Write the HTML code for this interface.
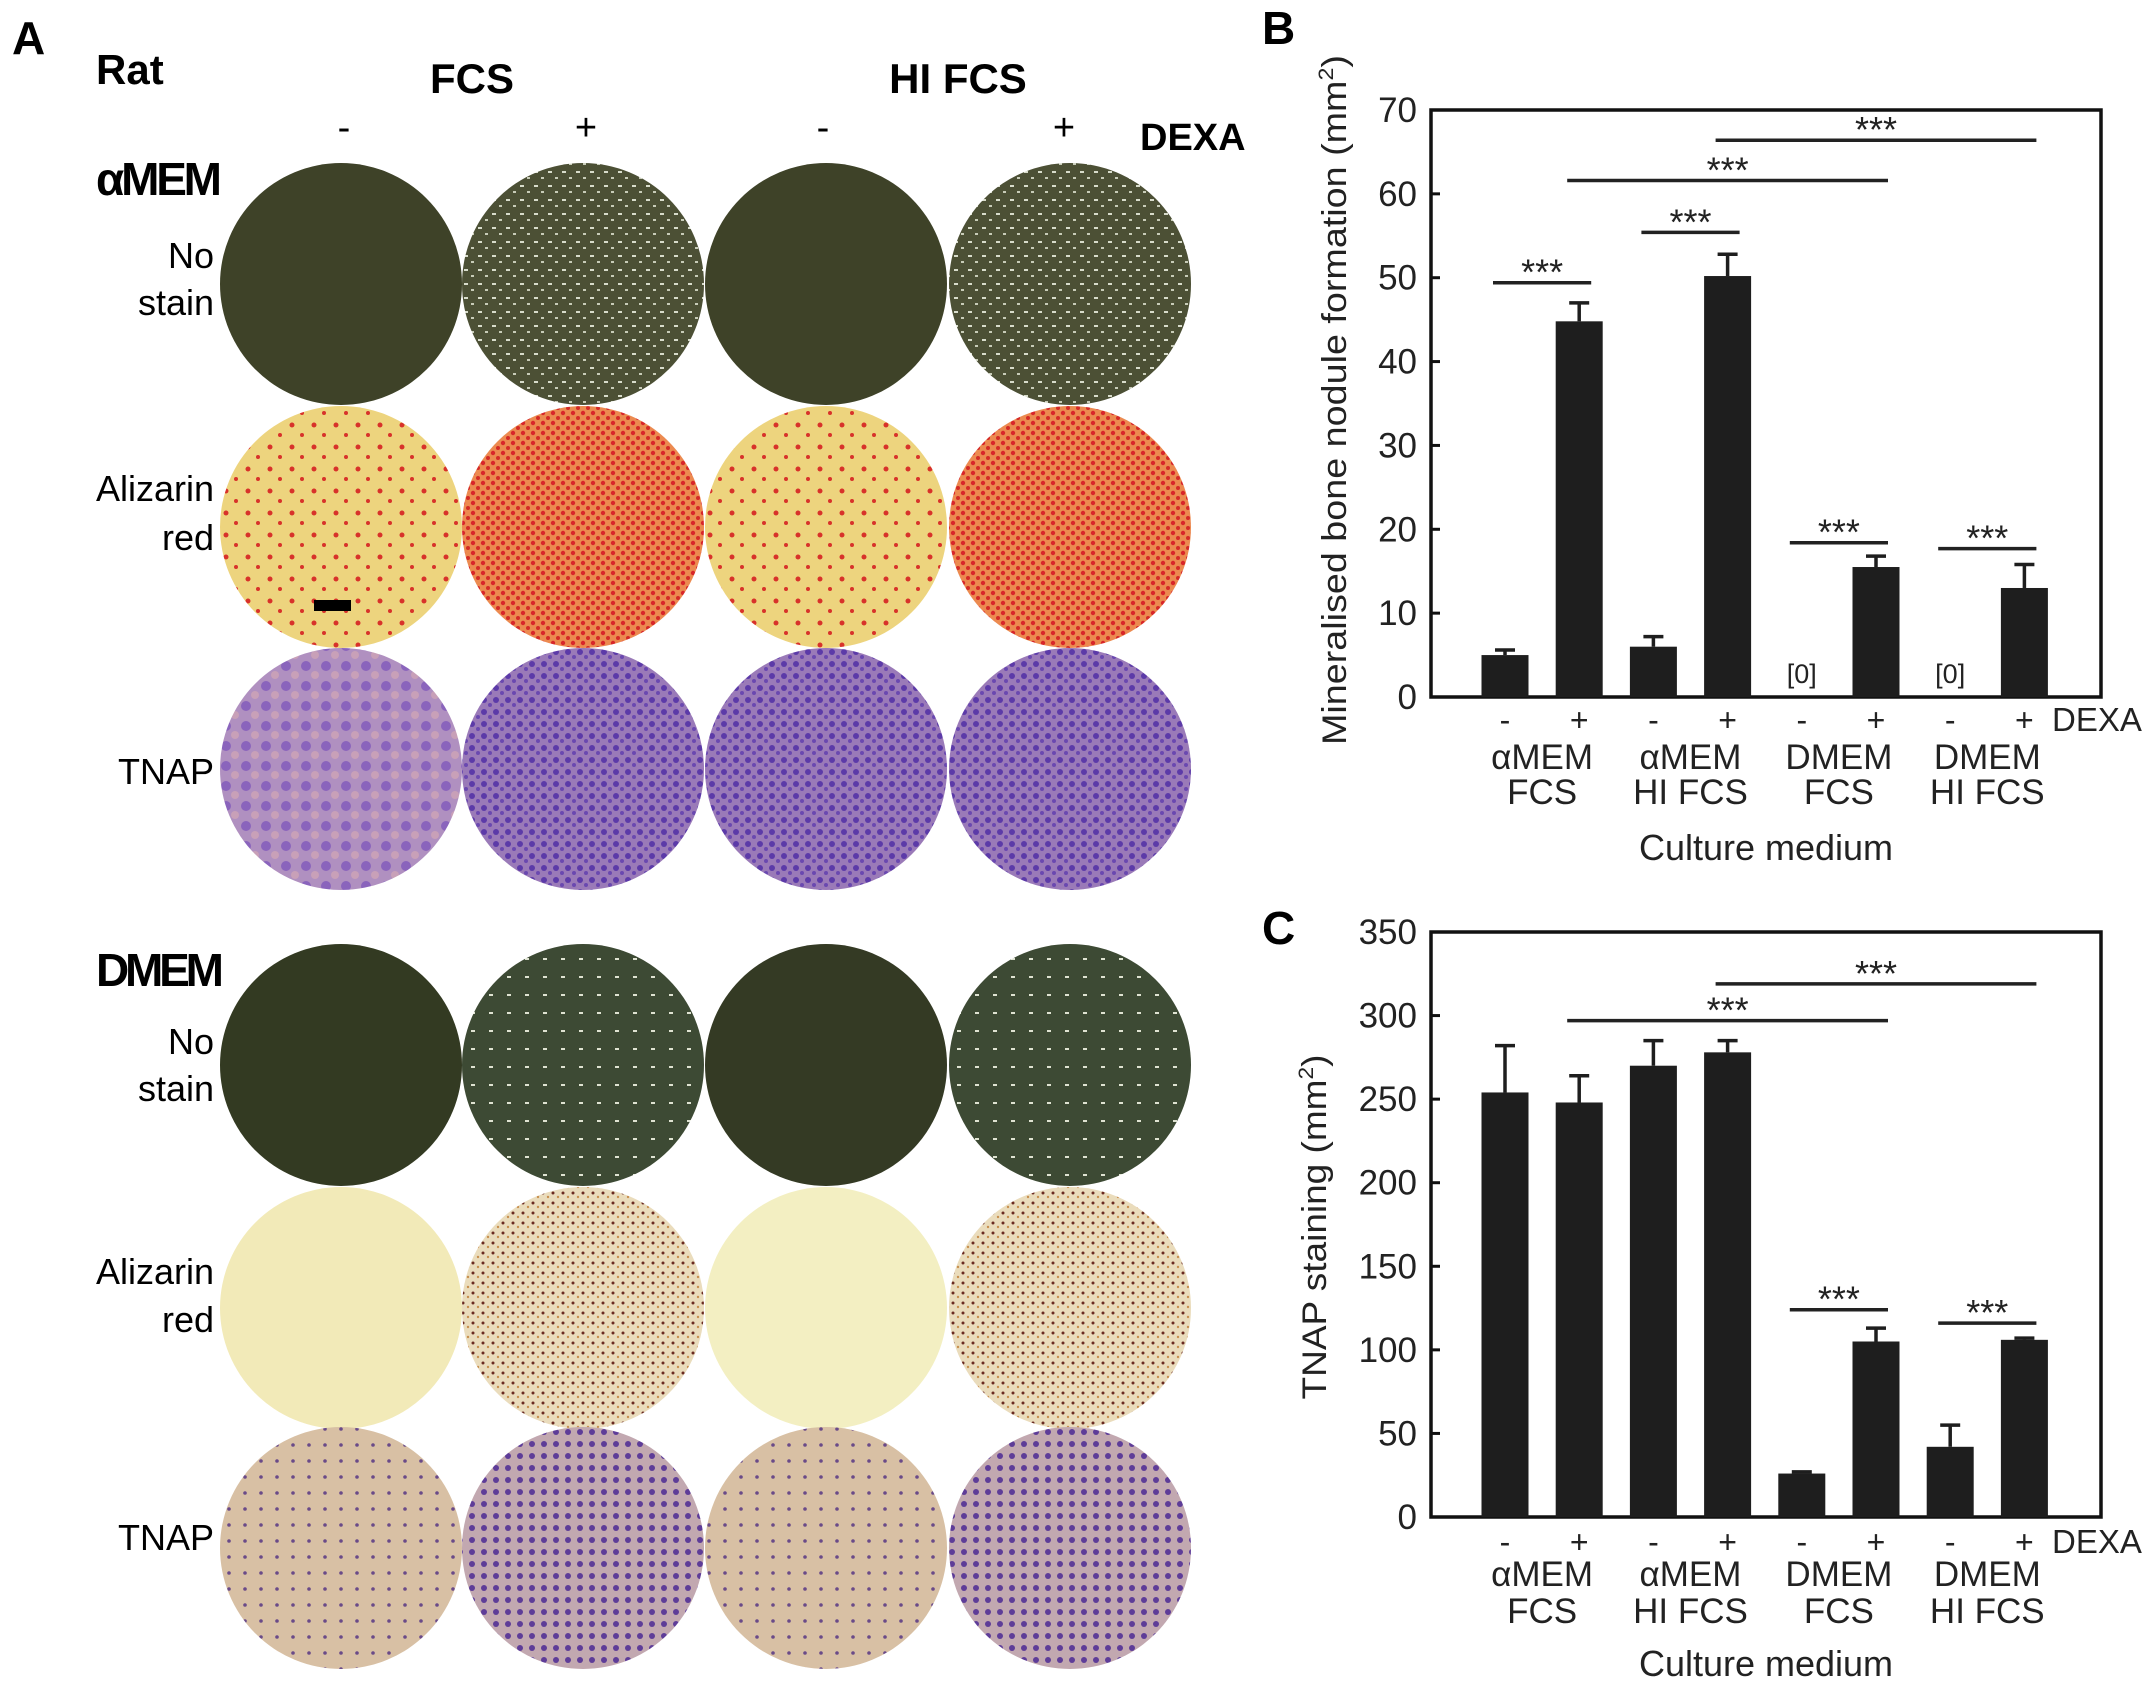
<!DOCTYPE html>
<html><head><meta charset="utf-8"><style>
html,body{margin:0;padding:0;background:#fff;}
svg{display:block;font-family:"Liberation Sans",Arial,sans-serif;}
</style></head><body>
<svg id="fig" width="2150" height="1690" viewBox="0 0 2150 1690" xmlns="http://www.w3.org/2000/svg">
<defs>
  <pattern id="pWhite" width="14" height="14" patternUnits="userSpaceOnUse"><rect width="14" height="14" fill="#4c5035"/><rect x="2" y="3" width="4" height="2" fill="#d8dccb"/><rect x="9" y="9" width="3" height="2" fill="#c8ccb8"/></pattern>
  <pattern id="pWhite2" width="18" height="18" patternUnits="userSpaceOnUse"><rect width="18" height="18" fill="#3d4a34"/><rect x="3" y="4" width="4" height="2" fill="#dfe3d2"/></pattern>
  <pattern id="pRedSparse" width="22" height="22" patternUnits="userSpaceOnUse"><rect width="22" height="22" fill="#edd47e"/><circle cx="6" cy="7" r="2.5" fill="#d8322a"/><circle cx="16" cy="17" r="2" fill="#d8322a"/></pattern>
  <pattern id="pRedDense" width="10" height="10" patternUnits="userSpaceOnUse"><rect width="10" height="10" fill="#ec8a50"/><circle cx="3" cy="3" r="2.2" fill="#d8262a"/><circle cx="8" cy="8" r="2" fill="#d42a26"/></pattern>
  <pattern id="pPurple1" width="20" height="20" patternUnits="userSpaceOnUse"><rect width="20" height="20" fill="#b090c0"/><circle cx="6" cy="6" r="5" fill="#8a64bc"/><circle cx="15" cy="15" r="4" fill="#c8a0b8"/></pattern>
  <pattern id="pPurple2" width="12" height="12" patternUnits="userSpaceOnUse"><rect width="12" height="12" fill="#9a7ab8"/><circle cx="4" cy="4" r="3" fill="#5c3aa8"/><circle cx="10" cy="9" r="2" fill="#6a48b0"/></pattern>
  <pattern id="pSpeck" width="10" height="10" patternUnits="userSpaceOnUse"><rect width="10" height="10" fill="#eadcbc"/><circle cx="3" cy="3" r="1.5" fill="#6a2a20"/><circle cx="8" cy="7" r="1.2" fill="#c89050"/></pattern>
  <pattern id="pBeige" width="16" height="16" patternUnits="userSpaceOnUse"><rect width="16" height="16" fill="#d8c0a4"/><circle cx="5" cy="5" r="1.8" fill="#6a4a88"/></pattern>
  <pattern id="pBeigeP" width="12" height="12" patternUnits="userSpaceOnUse"><rect width="12" height="12" fill="#c2a8b0"/><circle cx="4" cy="4" r="3" fill="#5e3c98"/></pattern>
</defs>

<!-- Panel A -->
<g>
  <text x="12" y="54" font-size="46" font-weight="bold">A</text>
  <text x="96" y="84" font-size="42" font-weight="bold">Rat</text>
  <text x="472" y="93" font-size="42" font-weight="bold" text-anchor="middle">FCS</text>
  <text x="958" y="93" font-size="42" font-weight="bold" text-anchor="middle">HI FCS</text>
  <text x="344" y="140" font-size="38" text-anchor="middle">-</text>
  <text x="586" y="140" font-size="38" text-anchor="middle">+</text>
  <text x="823" y="140" font-size="38" text-anchor="middle">-</text>
  <text x="1064" y="140" font-size="38" text-anchor="middle">+</text>
  <text x="1140" y="150" font-size="38" font-weight="bold">DEXA</text>
  <text x="96" y="195" font-size="46" font-weight="bold" textLength="126">αMEM</text>
  <text x="96" y="986" font-size="46" font-weight="bold" textLength="128">DMEM</text>
  <g font-size="36" text-anchor="end">
    <text x="214" y="268">No</text><text x="214" y="315">stain</text>
    <text x="214" y="501">Alizarin</text><text x="214" y="550">red</text>
    <text x="214" y="784">TNAP</text>
    <text x="214" y="1054">No</text><text x="214" y="1101">stain</text>
    <text x="214" y="1284">Alizarin</text><text x="214" y="1332">red</text>
    <text x="214" y="1550">TNAP</text>
  </g>
  <g id="wells"></g>
  <rect x="314" y="600" width="37" height="11" fill="#000"/>
</g>

<g id="chartB">
  <text x="1262" y="44" font-size="46" font-weight="bold">B</text>
</g>
<g id="chartC">
  <text x="1262" y="944" font-size="46" font-weight="bold">C</text>
</g>
</svg>
<script>
const NS='http://www.w3.org/2000/svg';
// Panel A wells
const wellCols=[341,583,826,1070];
const wellRows=[284,527,769,1065,1308,1548];
const wellFills=[
 ['#3e4228','url(#pWhite)','#3e4228','url(#pWhite)'],
 ['url(#pRedSparse)','url(#pRedDense)','url(#pRedSparse)','url(#pRedDense)'],
 ['url(#pPurple1)','url(#pPurple2)','url(#pPurple2)','url(#pPurple2)'],
 ['#333a22','url(#pWhite2)','#343a24','url(#pWhite2)'],
 ['#f2eab8','url(#pSpeck)','#f3efc2','url(#pSpeck)'],
 ['url(#pBeige)','url(#pBeigeP)','url(#pBeige)','url(#pBeigeP)']
];
const wg=document.getElementById('wells');
wellRows.forEach((cy,r)=>wellCols.forEach((cx,c)=>{
  const e=document.createElementNS(NS,'circle');
  e.setAttribute('cx',cx);e.setAttribute('cy',cy);e.setAttribute('r',121);
  e.setAttribute('fill',wellFills[r][c]);
  
  
  wg.appendChild(e);
}));

// Chart data
const dexa=['-','+','-','+','-','+','-','+'];
const groupsTop=['αMEM','αMEM','DMEM','DMEM'];
const groupsBottom=['FCS','HI FCS','FCS','HI FCS'];
const bValues=[5,44.8,6,50.2,0,15.5,0,13];
const bErrors=[5.6,47,7.2,52.8,null,16.8,null,15.8];
const bTicks=[0,10,20,30,40,50,60,70];
const bSig=[[0,1,49.4],[2,3,55.4],[1,5,61.6],[3,7,66.4],[4,5,18.4],[6,7,17.7]];
const cValues=[254,248,270,278,26,105,42,106];
const cErrors=[282,264,285,285,27,113,55,107];
const cTicks=[0,50,100,150,200,250,300,350];
const cSig=[[1,5,297],[3,7,319],[4,5,124],[6,7,116]];

function el(p,tag,attrs,name,text){
  const e=document.createElementNS(NS,tag);
  for(const k in attrs)e.setAttribute(k,attrs[k]);
  
  
  if(text!==undefined)e.textContent=text;
  p.appendChild(e);return e;
}
function chart(g,o){
  const L=1431,R=2101,top=o.top,bot=o.bot,max=o.ticks[o.ticks.length-1];
  const y=v=>bot-(v/max)*(bot-top);
  const x=i=>1505+i*74.2;
  el(g,'rect',{x:L,y:top,width:R-L,height:bot-top,fill:'none',stroke:'#111','stroke-width':3.5},'plot-frame');
  o.ticks.forEach(t=>{
    el(g,'line',{x1:L,x2:L+9,y1:y(t),y2:y(t),stroke:'#111','stroke-width':3},'y-tick');
    el(g,'text',{x:1417,y:y(t)+12,'font-size':35,'text-anchor':'end',fill:'#222'},'y-tick-label',String(t));
  });
  o.values.forEach((v,i)=>{
    if(v>0) el(g,'rect',{x:x(i)-23.5,y:y(v),width:47,height:bot-y(v),fill:'#1e1e1e'},'bar');
    else el(g,'text',{x:x(i),y:bot-14,'font-size':27,'text-anchor':'middle',fill:'#222'},'zero-label','[0]');
    const e=o.errors[i];
    if(e!==null){
      el(g,'line',{x1:x(i),x2:x(i),y1:y(v),y2:y(e),stroke:'#1e1e1e','stroke-width':3.5},'error-bar');
      el(g,'line',{x1:x(i)-10,x2:x(i)+10,y1:y(e),y2:y(e),stroke:'#1e1e1e','stroke-width':3.5},'error-cap');
    }
    el(g,'text',{x:x(i),y:o.r1,'font-size':32,'text-anchor':'middle',fill:'#222'},'dexa-sign',dexa[i]);
  });
  el(g,'text',{x:2052,y:o.r1,'font-size':33,fill:'#222'},'dexa-axis-label','DEXA');
  groupsTop.forEach((t,k)=>{
    const cx=(x(2*k)+x(2*k+1))/2;
    el(g,'text',{x:cx,y:o.r2,'font-size':35,'text-anchor':'middle',fill:'#222'},'group-label-medium',t);
    el(g,'text',{x:cx,y:o.r3,'font-size':35,'text-anchor':'middle',fill:'#222'},'group-label-serum',groupsBottom[k]);
  });
  el(g,'text',{x:1766,y:o.r4,'font-size':36,'text-anchor':'middle',fill:'#222'},'x-axis-title','Culture medium');
  o.sig.forEach(s=>{
    const x1=x(s[0])-12,x2=x(s[1])+12,yy=y(s[2]);
    el(g,'line',{x1:x1,x2:x2,y1:yy,y2:yy,stroke:'#222','stroke-width':3.5},'significance-line');
    el(g,'text',{x:(x1+x2)/2,y:yy+2,'font-size':36,'text-anchor':'middle',fill:'#222'},'significance-stars','***');
  });
  const t=el(g,'text',{x:0,y:0,'font-size':34,'text-anchor':'middle',fill:'#222',transform:`translate(${o.tx},${o.ty}) rotate(-90)`,textLength:o.tl,lengthAdjust:'spacingAndGlyphs'},'y-axis-title',o.title);
  const sup=document.createElementNS(NS,'tspan');
  sup.setAttribute('font-size','21');sup.setAttribute('dy','-13');sup.textContent='2';
  const close=document.createElementNS(NS,'tspan');close.setAttribute('dy','13');close.textContent=')';
  t.appendChild(sup);t.appendChild(close);
}
chart(document.getElementById('chartB'),{top:110,bot:697,ticks:bTicks,values:bValues,errors:bErrors,sig:bSig,r1:731,r2:769,r3:804,r4:860,tx:1346,ty:400,tl:690,title:'Mineralised bone nodule formation (mm'});
chart(document.getElementById('chartC'),{top:932,bot:1517,ticks:cTicks,values:cValues,errors:cErrors,sig:cSig,r1:1553,r2:1586,r3:1623,r4:1676,tx:1326,ty:1227,tl:345,title:'TNAP staining (mm'});
</script>
</body></html>
